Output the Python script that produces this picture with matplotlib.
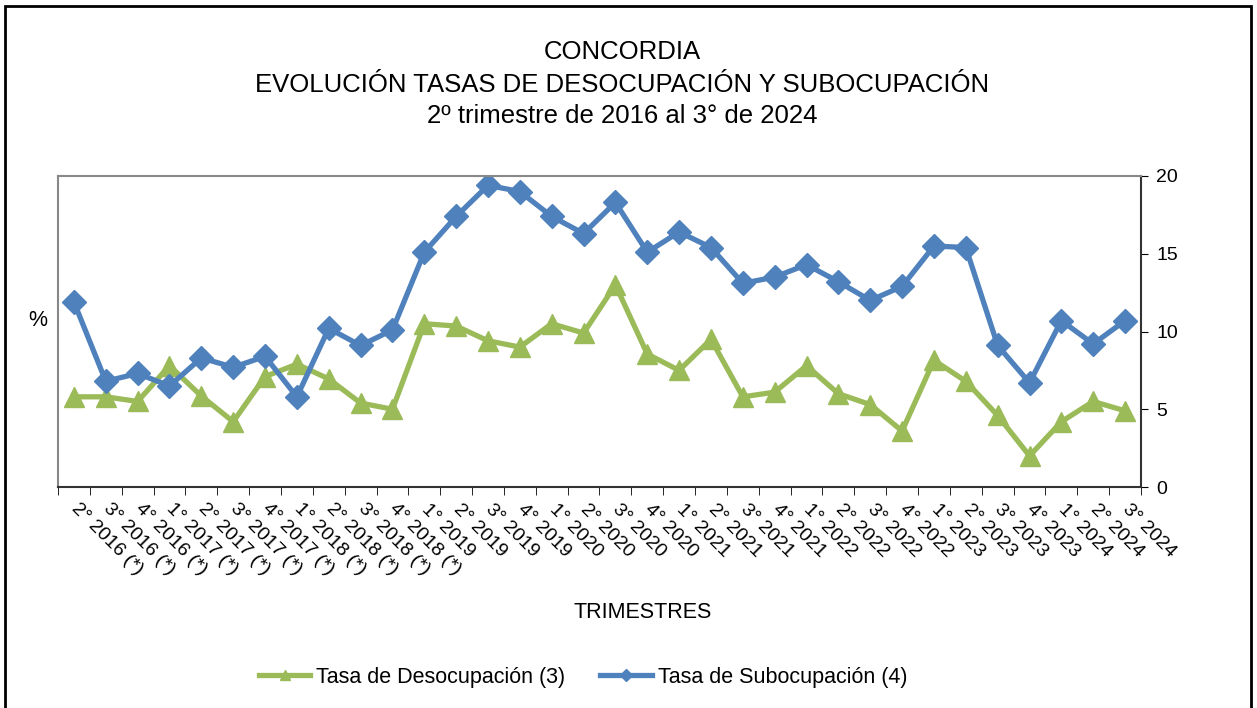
import matplotlib
matplotlib.use("Agg")
import matplotlib.pyplot as plt
from matplotlib.patches import Rectangle

plt.rcParams['font.family'] = ['Liberation Sans', 'DejaVu Sans']

# 2° trimestre 2016 .. 3° trimestre 2024
trimestres = (["1°", "2°", "3°", "4°"] * 9)[1:35]
anios = [str(y) for y in range(2016, 2025) for _ in range(4)][1:35]
con_asterisco = 11
etiquetas = [f"{t} {a} (*)" if i < con_asterisco else f"{t} {a}"
             for i, (t, a) in enumerate(zip(trimestres, anios))]

desocupacion = [5.8, 5.8, 5.5, 7.8, 5.85, 4.2, 7.1, 7.9, 6.95, 5.4, 5.0,
                10.5, 10.35, 9.4, 9.0, 10.5, 9.9, 13.0, 8.55, 7.5, 9.5,
                5.8, 6.1, 7.8, 6.0, 5.3, 3.6, 8.15, 6.8, 4.6, 2.0, 4.2,
                5.5, 4.9]
subocupacion = [11.9, 6.8, 7.3, 6.5, 8.3, 7.7, 8.4, 5.8, 10.2, 9.1, 10.1,
                15.1, 17.4, 19.4, 19.0, 17.4, 16.3, 18.3, 15.1, 16.4, 15.4,
                13.1, 13.5, 14.3, 13.2, 12.0, 12.9, 15.5, 15.4, 9.1, 6.7,
                10.7, 9.2, 10.7]

verde = "#9BBB59"
azul = "#4F81BD"

fig = plt.figure(figsize=(12.57, 7.08), dpi=100)
ax = fig.add_axes([58/1257, 1 - 487/708, (1141 - 58)/1257, (487 - 176)/708])

x = list(range(len(etiquetas)))
ax.plot(x, desocupacion, color=verde, lw=3.8, marker="^", ms=15,
        label="Tasa de Desocupación (3)")
ax.plot(x, subocupacion, color=azul, lw=3.8, marker="D", ms=12,
        label="Tasa de Subocupación (4)")

ax.set_xlim(-0.5, len(x) - 0.5)
ax.set_ylim(0, 20)
ax.yaxis.tick_right()
ax.set_yticks([0, 5, 10, 15, 20])
ax.tick_params(axis="y", labelsize=14, length=5, direction="out", pad=6)

ax.set_xticks(x)
ax.set_xticklabels(etiquetas, rotation=-45, ha="left", va="center",
                   rotation_mode="anchor", fontsize=14)
ax.set_xticks([i - 0.5 for i in range(len(x) + 1)], minor=True)
ax.tick_params(axis="x", which="major", length=0, pad=14)
ax.tick_params(axis="x", which="minor", length=6, direction="out")

for s in ["top", "left"]:
    ax.spines[s].set_color("#888888")
    ax.spines[s].set_linewidth(1.5)
for s in ["bottom", "right"]:
    ax.spines[s].set_color("#333333")
    ax.spines[s].set_linewidth(1.5)

fig.text(622/1257, 1 - 52/708, "CONCORDIA", ha="center", va="center", fontsize=18.5)
fig.text(622/1257, 1 - 85/708, "EVOLUCIÓN TASAS DE DESOCUPACIÓN Y SUBOCUPACIÓN",
         ha="center", va="center", fontsize=18.5)
fig.text(622/1257, 1 - 116/708, "2º trimestre de 2016 al 3° de 2024",
         ha="center", va="center", fontsize=18.5)
fig.text(38/1257, 1 - 320/708, "%", ha="center", va="center", fontsize=15.5)
fig.text(643/1257, 1 - 613/708, "TRIMESTRES", ha="center", va="center", fontsize=15.5)

fig.legend(loc="center", bbox_to_anchor=(583/1257, 1 - 677/708), ncol=2,
           frameon=False, fontsize=15.5, markerscale=0.5, handlelength=2.4,
           handletextpad=0.28, columnspacing=1.6)

fig.patches.append(Rectangle((5/1257, -0.01), (1251 - 5)/1257, 1.01 - 6/708,
                             transform=fig.transFigure, fill=False,
                             edgecolor="black", lw=2))

fig.savefig("out.png", dpi=100)
